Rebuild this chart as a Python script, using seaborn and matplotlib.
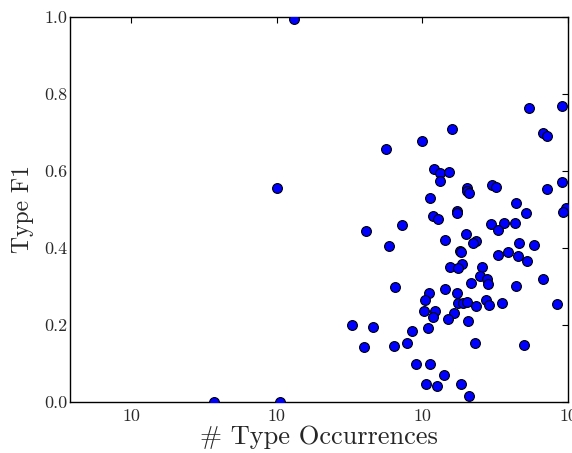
import numpy as np
import pandas as pd
import matplotlib
matplotlib.use("Agg")
import matplotlib.pyplot as plt
import seaborn as sns

# values (x is on a log axis)
occurrences = [
    541, 914, 160, 100, 56, 678, 722, 120, 133, 152,
    132, 905, 300, 318, 715, 202, 204, 209, 112, 436,
    174, 173, 516, 964, 924, 119, 127, 73, 41, 298,
    363, 431, 332, 198, 142, 232, 221, 464, 582, 59,
    182, 185, 330, 386, 455, 521, 188, 154, 176, 258,
    247, 280, 282, 217, 436, 671, 65, 142, 111, 174,
    104, 177, 189, 201, 274, 286, 235, 353, 836, 103,
    122, 119, 166, 149, 207, 33, 46, 85, 110, 40,
    64, 78, 231, 497, 90, 112, 141, 106, 126, 183,
    209, 3.7, 10.0, 10.6, 13.1,
]
type_f1 = [
    0.764, 0.769, 0.709, 0.678, 0.658, 0.698, 0.691, 0.606, 0.594, 0.597,
    0.574, 0.571, 0.563, 0.558, 0.553, 0.556, 0.549, 0.543, 0.529, 0.516,
    0.496, 0.491, 0.490, 0.505, 0.493, 0.482, 0.474, 0.460, 0.445, 0.462,
    0.465, 0.466, 0.447, 0.436, 0.422, 0.418, 0.412, 0.413, 0.407, 0.405,
    0.393, 0.390, 0.383, 0.390, 0.379, 0.367, 0.359, 0.351, 0.347, 0.351,
    0.327, 0.319, 0.306, 0.308, 0.302, 0.319, 0.299, 0.294, 0.282, 0.282,
    0.265, 0.256, 0.258, 0.261, 0.264, 0.253, 0.250, 0.256, 0.255, 0.236,
    0.236, 0.222, 0.231, 0.216, 0.210, 0.199, 0.196, 0.185, 0.193, 0.143,
    0.145, 0.153, 0.152, 0.147, 0.098, 0.098, 0.069, 0.048, 0.042, 0.046,
    0.016, 0.0, 0.557, 0.0, 0.995,
]
x_ticks = [1, 10, 100, 1000]
x_tick_labels = ["10", "10", "10", "10"]
y_ticks = [0.0, 0.2, 0.4, 0.6, 0.8, 1.0]
y_tick_labels = ["0.0", "0.2", "0.4", "0.6", "0.8", "1.0"]

df = pd.DataFrame({"occ": occurrences, "f1": type_f1})

sns.set_style("white")
plt.rcParams["font.family"] = ["cmr10", "DejaVu Serif"]
plt.rcParams["axes.formatter.use_mathtext"] = True

fig = plt.figure(figsize=(5.72, 4.53), dpi=100)
ax = fig.add_axes([0.1224, 0.1126, 0.8706, 0.8499])

sns.scatterplot(data=df, x="occ", y="f1", ax=ax, color="#0000ff",
                edgecolor="black", linewidth=0.8, s=50, zorder=3)

ax.set_xscale("log")
ax.set_xlim(10 ** -0.42, 1000)
ax.set_ylim(0, 1.0)
ax.set_xticks(x_ticks)
ax.set_xticklabels(x_tick_labels)
ax.xaxis.set_minor_locator(matplotlib.ticker.NullLocator())
ax.set_yticks(y_ticks)
ax.set_yticklabels(y_tick_labels)

ax.tick_params(axis="both", which="major", direction="in", length=4, width=0.8,
               top=True, right=True, labelsize=13, labelcolor="#2a2a2a", color="black")
ax.tick_params(axis="x", pad=5)
ax.tick_params(axis="y", pad=2)
for sp in ax.spines.values():
    sp.set_color("black")
    sp.set_linewidth(1.0)

ax.set_xlabel("# Type Occurrences", fontsize=19, labelpad=1)
ax.set_ylabel("Type F1", fontsize=17, labelpad=7)

fig.savefig("out.png", dpi=100)
